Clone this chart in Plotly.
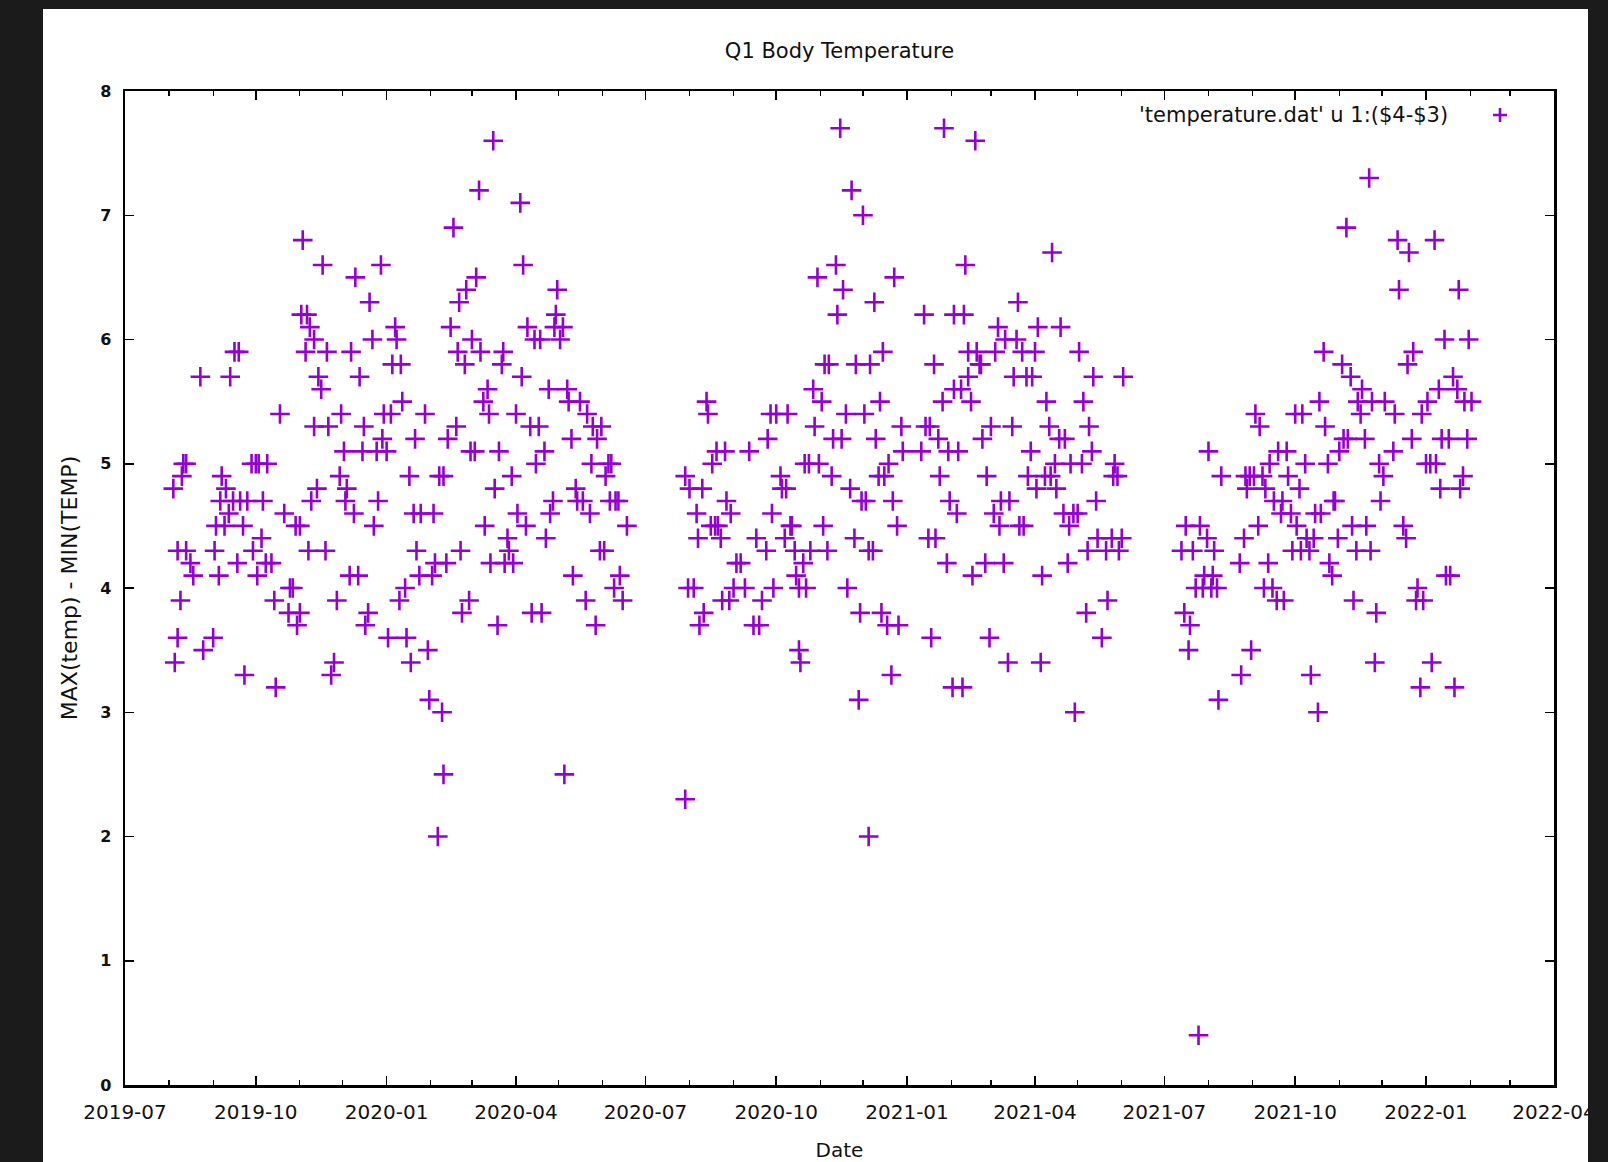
import pandas as pd
import plotly.graph_objects as go

# ---------------- data ----------------
start_date = "2019-07-01"   # day 0 of the day offsets below

# Aug 2019 - Jun 2020
days_2019_20 = [
    34, 35, 37, 37, 39, 40, 41, 43, 43, 46,
    48, 53, 55, 62, 63, 64, 66, 67, 68, 70,
    71, 73, 74, 76, 77, 79, 80, 81, 83, 84,
    86, 89, 90, 92, 93, 94, 96, 97, 99, 100,
    103, 105, 106, 109, 112, 115, 116, 118, 120, 121,
    123, 123, 124, 125, 127, 128, 129, 130, 131, 133,
    133, 135, 136, 138, 139, 141, 142, 143, 145, 147,
    149, 151, 152, 154, 155, 156, 158, 159, 161, 162,
    164, 165, 167, 168, 169, 171, 172, 174, 175, 177,
    178, 180, 181, 182, 184, 185, 187, 188, 190, 191,
    193, 194, 195, 197, 198, 200, 201, 203, 204, 205,
    207, 208, 211, 213, 214, 216, 217, 218, 220, 221,
    223, 224, 224, 226, 227, 229, 231, 233, 234, 235,
    236, 237, 239, 240, 242, 243, 244, 246, 247, 249,
    250, 252, 253, 255, 256, 257, 259, 260, 262, 263,
    265, 266, 267, 269, 270, 272, 273, 275, 276, 278,
    279, 280, 282, 283, 285, 286, 288, 289, 291, 292,
    293, 295, 296, 298, 299, 301, 302, 303, 304, 306,
    308, 309, 311, 312, 314, 315, 317, 318, 320, 322,
    324, 325, 327, 328, 329, 331, 332, 334, 335, 337,
    338, 340, 341, 342, 344, 345, 347, 348, 350, 353,
]
spread_2019_20 = [
    4.8, 3.4, 4.3, 3.6, 3.9, 4.9, 5.0, 5.0, 4.3, 4.2,
    4.1, 5.7, 3.5, 3.6, 4.3, 4.5, 4.1, 4.7, 4.9, 4.5,
    4.8, 4.6, 5.7, 4.7, 5.9, 4.2, 5.9, 4.7, 4.5, 3.3,
    4.7, 5.0, 4.3, 5.0, 4.1, 5.0, 4.4, 4.7, 4.2, 5.0,
    4.2, 3.9, 3.2, 5.4, 4.6, 3.8, 4.0, 4.0, 4.5, 3.7,
    4.5, 3.8, 6.2, 6.8, 5.9, 6.2, 4.3, 6.1, 4.7, 6.0,
    5.3, 4.8, 5.7, 5.6, 6.6, 4.3, 5.9, 5.3, 3.3, 3.4,
    3.9, 4.9, 5.4, 5.1, 4.7, 4.8, 4.1, 5.9, 4.6, 6.5,
    4.1, 5.7, 5.1, 5.3, 3.7, 3.8, 6.3, 6.0, 4.5, 5.1,
    4.7, 6.6, 5.2, 5.4, 5.1, 3.6, 5.4, 5.8, 6.1, 6.0,
    3.9, 5.8, 5.5, 4.0, 3.6, 4.9, 3.4, 4.6, 5.2, 4.3,
    4.1, 4.6, 5.4, 3.5, 3.1, 4.1, 4.6, 4.2, 2.0, 4.9,
    3.0, 2.5, 4.9, 4.2, 5.2, 6.1, 6.9, 5.3, 5.9, 6.3,
    4.3, 3.8, 5.8, 6.4, 3.9, 5.1, 6.0, 5.1, 6.5, 7.2,
    5.9, 5.5, 4.5, 5.6, 5.4, 4.2, 7.6, 4.8, 3.7, 5.1,
    5.8, 5.9, 4.2, 4.4, 4.3, 4.9, 4.2, 5.4, 4.6, 7.1,
    5.7, 6.6, 4.5, 6.1, 5.3, 3.8, 6.0, 5.0, 5.3, 6.0,
    3.8, 5.1, 4.4, 5.6, 4.6, 4.7, 6.1, 6.2, 6.4, 6.0,
    6.1, 2.5, 5.6, 5.5, 5.2, 4.1, 4.8, 4.7, 5.5, 4.7,
    3.9, 5.4, 4.6, 5.0, 5.3, 3.7, 5.2, 4.3, 5.3, 4.3,
    4.9, 5.0, 4.7, 5.0, 4.0, 4.7, 4.7, 4.1, 3.9, 4.5,
]

# Jul 2020 - Jun 2021
days_2020_21 = [
    394, 394, 396, 397, 400, 402, 403, 404, 406, 407,
    409, 410, 412, 413, 415, 416, 417, 419, 420, 422,
    423, 425, 426, 428, 430, 433, 436, 439, 442, 444,
    446, 448, 451, 452, 454, 455, 456, 458, 461, 462,
    464, 465, 466, 468, 469, 471, 472, 474, 474, 475,
    477, 478, 479, 481, 482, 484, 485, 487, 488, 490,
    491, 492, 494, 495, 497, 498, 500, 501, 503, 504,
    505, 507, 508, 510, 511, 513, 514, 516, 517, 518,
    519, 520, 521, 523, 523, 524, 526, 527, 528, 530,
    531, 532, 533, 534, 536, 537, 539, 540, 541, 543,
    544, 546, 547, 560, 562, 563, 565, 566, 567, 569,
    570, 572, 573, 575, 576, 578, 579, 580, 582, 583,
    583, 585, 586, 588, 589, 590, 591, 593, 593, 595,
    596, 598, 599, 601, 602, 603, 605, 606, 608, 609,
    611, 612, 614, 615, 616, 618, 619, 621, 622, 624,
    625, 627, 628, 629, 631, 632, 634, 635, 637, 638,
    640, 641, 642, 644, 645, 647, 648, 650, 651, 652,
    654, 655, 657, 658, 660, 661, 663, 664, 665, 667,
    668, 670, 671, 673, 674, 676, 677, 678, 680, 681,
    683, 684, 687, 690, 691, 694, 695, 696, 698, 699,
    701, 702,
]
spread_2020_21 = [
    2.3, 4.9, 4.0, 4.8, 4.0, 4.6, 4.4, 3.7, 4.8, 3.8,
    5.5, 5.4, 4.5, 5.0, 4.5, 5.1, 4.5, 4.4, 3.9, 5.1,
    4.7, 3.9, 4.6, 4.0, 4.2, 4.2, 4.0, 5.1, 3.7, 4.4,
    3.7, 3.9, 4.3, 5.2, 5.4, 4.6, 4.0, 5.4, 4.9, 4.8,
    4.4, 4.8, 5.4, 4.5, 4.5, 4.3, 4.1, 4.0, 3.5, 3.4,
    4.2, 5.0, 4.0, 5.0, 4.3, 5.6, 5.3, 6.5, 5.0, 5.5,
    4.5, 5.8, 4.3, 5.8, 4.9, 5.2, 6.6, 6.2, 7.7, 5.2,
    6.4, 5.4, 4.0, 4.8, 7.2, 4.4, 5.8, 3.1, 3.8, 4.7,
    7.0, 5.4, 4.7, 4.3, 2.0, 5.8, 4.3, 6.3, 5.2, 4.9,
    5.5, 3.8, 5.9, 4.9, 3.7, 5.0, 3.3, 4.7, 6.5, 4.5,
    3.7, 5.3, 5.1, 5.1, 6.2, 5.3, 4.4, 5.3, 3.6, 5.8,
    4.4, 5.2, 4.9, 5.5, 7.7, 4.2, 5.1, 4.7, 3.2, 6.2,
    5.6, 4.6, 5.1, 5.6, 3.2, 6.2, 6.6, 5.7, 5.9, 5.5,
    4.1, 7.6, 5.9, 5.8, 5.8, 5.2, 4.2, 4.9, 3.6, 5.3,
    4.6, 5.9, 6.1, 4.5, 4.7, 4.2, 6.0, 3.4, 4.7, 5.3,
    5.7, 6.0, 6.3, 4.5, 5.9, 4.5, 5.7, 4.9, 5.1, 5.7,
    5.9, 4.8, 6.1, 3.4, 4.1, 4.9, 5.5, 5.3, 4.9, 6.7,
    5.0, 4.8, 5.2, 6.1, 4.6, 5.2, 4.2, 4.5, 5.0, 4.6,
    3.0, 4.6, 5.9, 5.0, 5.5, 3.8, 4.3, 5.3, 5.1, 5.7,
    4.7, 4.4, 3.6, 4.3, 3.9, 4.4, 4.9, 5.0, 4.9, 4.3,
    4.4, 5.7,
]

# Jul 2021 - Feb 2022
days_2021_22 = [
    743, 745, 746, 748, 749, 751, 753, 755, 756, 758,
    759, 761, 762, 764, 765, 766, 768, 769, 771, 784,
    785, 787, 788, 789, 791, 792, 794, 795, 797, 798,
    800, 801, 802, 804, 805, 807, 808, 810, 811, 813,
    814, 815, 817, 818, 820, 821, 823, 824, 826, 827,
    828, 830, 831, 833, 834, 836, 837, 839, 840, 841,
    843, 844, 846, 847, 849, 850, 851, 853, 854, 856,
    857, 859, 860, 862, 863, 864, 866, 867, 869, 870,
    872, 873, 875, 876, 877, 879, 880, 882, 883, 885,
    886, 892, 893, 895, 896, 899, 901, 902, 903, 905,
    906, 908, 909, 911, 912, 913, 915, 916, 918, 919,
    921, 922, 924, 925, 926, 928, 929, 931, 932, 934,
    935, 937, 938, 939, 941, 942, 944, 945, 947,
]
spread_2021_22 = [
    4.3, 3.8, 4.5, 3.5, 3.7, 4.3, 4.0, 0.4, 4.5, 4.0,
    4.1, 4.4, 5.1, 4.0, 4.1, 4.3, 4.0, 3.1, 4.9, 4.2,
    3.3, 4.4, 4.9, 4.8, 4.9, 3.5, 4.9, 5.4, 4.5, 5.3,
    4.9, 4.0, 4.8, 4.2, 5.0, 4.0, 4.7, 3.9, 5.1, 4.6,
    4.7, 3.9, 5.1, 4.9, 4.6, 4.3, 5.4, 4.5, 4.8, 4.3,
    5.4, 5.0, 4.4, 4.3, 3.3, 4.4, 4.6, 3.0, 5.5, 4.6,
    5.9, 5.3, 5.0, 4.2, 4.1, 4.7, 4.7, 4.4, 5.1, 5.8,
    5.2, 6.9, 5.2, 5.7, 4.5, 3.9, 4.3, 5.5, 5.4, 5.6,
    5.2, 4.5, 7.3, 4.3, 5.5, 3.4, 3.8, 5.0, 4.7, 4.9,
    5.5, 5.1, 5.4, 6.8, 6.4, 4.5, 4.4, 5.8, 6.7, 5.2,
    5.9, 3.9, 4.0, 3.2, 5.4, 3.9, 5.0, 5.5, 5.0, 3.4,
    6.8, 5.0, 5.6, 4.8, 5.2, 6.0, 4.1, 5.2, 4.1, 5.7,
    3.2, 5.6, 6.4, 4.8, 4.9, 5.5, 5.2, 6.0, 5.5,
]

x_tick_labels = ["2019-07", "2019-10", "2020-01", "2020-04", "2020-07", "2020-10",
                 "2021-01", "2021-04", "2021-07", "2021-10", "2022-01", "2022-04"]
y_ticks = [0, 1, 2, 3, 4, 5, 6, 7, 8]

series_name = "'temperature.dat' u 1:($4-$3)"
title_text = "Q1 Body Temperature"

# ---------------- build ----------------
days = days_2019_20 + days_2020_21 + days_2021_22
spread = spread_2019_20 + spread_2020_21 + spread_2021_22
df = pd.DataFrame({"day": days, "spread": spread})
df["date"] = pd.to_datetime(start_date) + pd.to_timedelta(df["day"], unit="D")

x_tick_vals = [label + "-01" for label in x_tick_labels]

PURPLE = "#9400d3"
DARK = "#1b1b1b"
FONT = "DejaVu Sans"
TXT = "#111"

# The page body keeps its default 8px margin; the figure is sized so that
# figure + margin fills the 1608x1162 window.
OFF = 8
PAGE_W, PAGE_H = 1608, 1162
W, H = PAGE_W - OFF, PAGE_H - OFF
L, R, T, B = 117, 54, 83, 77
PW, PH = W - L - R, H - T - B


def px_x(p):   # page pixel -> paper x
    return (p - OFF - L) / PW


def px_y(p):   # page pixel -> paper y
    return (H - B - (p - OFF)) / PH


fig = go.Figure()
fig.add_trace(go.Scatter(
    x=df["date"], y=df["spread"], mode="markers", name=series_name,
    marker=dict(symbol="cross-thin", size=14, color=PURPLE,
                line=dict(color=PURPLE, width=2.6)),
    showlegend=False, hoverinfo="skip",
))

axis_common = dict(
    showline=True, linecolor="black", linewidth=2.5, mirror="ticks",
    ticks="inside", ticklen=9, tickwidth=1.5, tickcolor="black",
    showgrid=False, zeroline=False, automargin=False,
)

fig.update_xaxes(
    type="date", range=[start_date, x_tick_vals[-1]],
    tickvals=x_tick_vals, ticktext=x_tick_labels,
    tickfont=dict(family=FONT, size=20, color=TXT),
    ticklabelstandoff=7,
    minor=dict(dtick="M1", tick0=start_date, ticks="inside", ticklen=5,
               tickwidth=1.2, tickcolor="black"),
    title=dict(text="Date", font=dict(family=FONT, size=20, color=TXT), standoff=22),
    **axis_common,
)
fig.update_yaxes(
    range=[y_ticks[0], y_ticks[-1]], tickvals=y_ticks,
    tickfont=dict(family=FONT, size=16, color=TXT, weight="bold"),
    ticklabelstandoff=8,
    title=dict(text="MAX(temp) - MIN(TEMP)", font=dict(family=FONT, size=22, color=TXT),
               standoff=17),
    **axis_common,
)

shapes = [
    # dark window surround (left, top, right)
    dict(type="rect", xref="paper", yref="paper", layer="above", line_width=0,
         fillcolor=DARK, x0=px_x(OFF), x1=px_x(43), y0=px_y(PAGE_H), y1=px_y(OFF)),
    dict(type="rect", xref="paper", yref="paper", layer="above", line_width=0,
         fillcolor=DARK, x0=px_x(OFF), x1=px_x(PAGE_W), y0=px_y(9), y1=px_y(OFF)),
    dict(type="rect", xref="paper", yref="paper", layer="above", line_width=0,
         fillcolor=DARK, x0=px_x(1588), x1=px_x(PAGE_W), y0=px_y(PAGE_H), y1=px_y(OFF)),
    # legend sample (plus sign)
    dict(type="path", xref="paper", yref="paper", xsizemode="pixel", ysizemode="pixel",
         xanchor=px_x(1500), yanchor=px_y(115),
         path="M -7,0 L 7,0 M 0,-7 L 0,7", line=dict(color=PURPLE, width=2.6)),
]

annotations = [
    dict(text=series_name, xref="paper", yref="paper", x=px_x(1450), y=px_y(115),
         xanchor="right", yanchor="middle", showarrow=False,
         font=dict(family=FONT, size=21, color=TXT)),
]

fig.update_layout(
    width=W, height=H, autosize=False,
    margin=dict(l=L, r=R, t=T, b=B, pad=0, autoexpand=False),
    paper_bgcolor="white", plot_bgcolor="white",
    title=dict(text=title_text, x=0.5, xref="paper", xanchor="center",
               y=1 - (51 - OFF) / H, yref="container", yanchor="middle",
               font=dict(family=FONT, size=21, color=TXT), automargin=False),
    shapes=shapes, annotations=annotations, showlegend=False,
    hovermode=False,
)

fig.write_html(
    "out.html",
    config={"displayModeBar": False, "staticPlot": True},
    post_script="document.body.style.background='#1b1b1b';",
)
